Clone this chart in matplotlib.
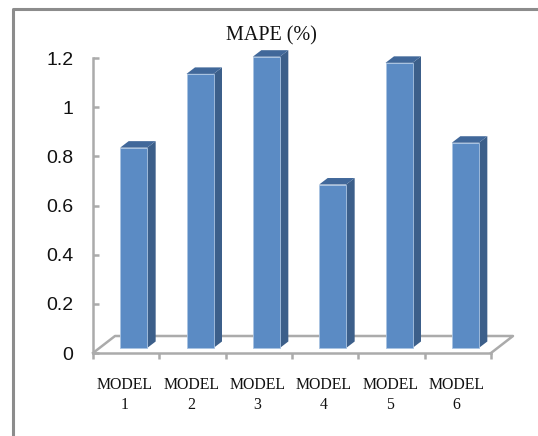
import numpy as np
import matplotlib
matplotlib.use("Agg")
import matplotlib.pyplot as plt
from matplotlib.lines import Line2D
from matplotlib.patches import Polygon

labels = ["MODEL\n1", "MODEL\n2", "MODEL\n3", "MODEL\n4", "MODEL\n5", "MODEL\n6"]
mape = [0.815, 1.115, 1.185, 0.665, 1.16, 0.835]
yticks = [0, 0.2, 0.4, 0.6, 0.8, 1, 1.2]
yticklabels = ["0", "0.2", "0.4", "0.6", "0.8", "1", "1.2"]

W, H = 538, 436
fig = plt.figure(figsize=(W / 100, H / 100), dpi=100)

# picture frame, only top and left are in the crop
fig.add_artist(Line2D([12.5 / W, 12.5 / W, 1], [0, 1 - 9 / H, 1 - 9 / H], color="#8c8c8c", lw=2.2))

# axis box in pixels
left, right, top, bottom = 93, 491, 58, 353
ax = fig.add_axes([left / W, 1 - bottom / H, (right - left) / W, (bottom - top) / H])
ax.patch.set_visible(False)
ax.set_xlim(0, 6)
ax.set_ylim(0, 1.2)
px = 6 / (right - left)
py = 1.2 / (bottom - top)

for s in ["top", "right"]:
    ax.spines[s].set_visible(False)
for s in ["left", "bottom"]:
    ax.spines[s].set_color("#ababab")
    ax.spines[s].set_linewidth(1.8)

# floor
dx, dy = 22 * px, 17 * py
ax.plot([0, dx, 6 + dx, 6], [0, dy, dy, 0], color="#ababab", lw=1.8, clip_on=False, zorder=1)

x = np.arange(6) + 0.5
ax.set_xticks(range(7))
ax.set_xticklabels([])
ax.set_yticks(yticks)
ax.set_yticklabels(yticklabels, fontsize=14, family="Liberation Sans", color="#111111", va="center_baseline")
ax.tick_params(axis="x", color="#ababab", width=1.8, length=4.5)
ax.tick_params(axis="y", color="#ababab", width=1.8, length=4.5, direction="in", pad=14)

# 3d bars
base = 5 * py
off = 7.5 * px
bw = 27 * px
ddx, ddy = 8.5 * px, 6.5 * py
for xi, v in zip(x, mape):
    x0 = xi + off - bw / 2
    x1 = x0 + bw
    ax.bar(x0, v, width=bw, bottom=base, align="edge", color="#5b8bc4", edgecolor="#a9c3e2",
           linewidth=0.6, zorder=4, clip_on=False)
    ax.add_patch(Polygon([(x1, base), (x1 + ddx, base + ddy), (x1 + ddx, base + v + ddy), (x1, base + v)],
                         fc="#3c5f8a", ec="none", zorder=3, clip_on=False))
    ax.add_patch(Polygon([(x0, base + v), (x0 + ddx, base + v + ddy), (x1 + ddx, base + v + ddy), (x1, base + v)],
                         fc="#41689a", ec="none", zorder=3, clip_on=False))

for xi, lab in zip(x, labels):
    ax.text(xi - 0.02, -24 * py, lab, ha="center", va="top", fontsize=11.4, family="Liberation Serif",
            linespacing=1.35, color="#111111", clip_on=False)

fig.text(271 / W, 1 - 36 / H, "MAPE (%)", ha="center", va="center", fontsize=14.5,
         family="Liberation Serif", color="#111111")

fig.savefig("out.png", dpi=100)
